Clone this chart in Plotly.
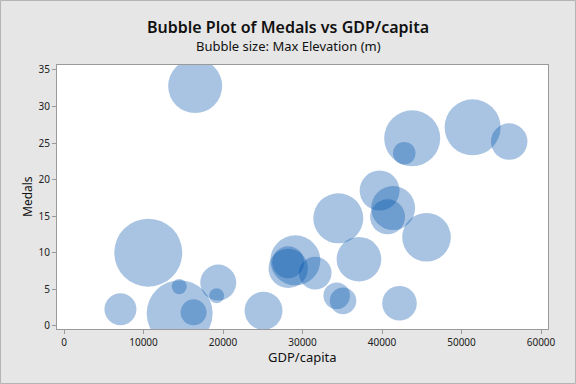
import plotly.graph_objects as go

# Data
gdp_per_capita = [16500, 10600, 7100, 14550, 14500, 16300, 19400, 19200, 25100,
                  29100, 28200, 28200, 31600,
                  43800, 42800, 51400, 56000, 39700, 41400, 40700, 34500,
                  45600, 37100, 34300, 35100, 42200]
medals = [32.8, 10.0, 2.25, 1.7, 5.35, 1.83, 5.9, 4.1, 2.05,
          8.95, 8.7, 7.85, 7.2,
          25.65, 23.6, 27.15, 25.2, 18.5, 16.1, 14.9, 14.7,
          12.1, 9.1, 4.1, 3.4, 3.07]
max_elevation = [3560, 5642, 1250, 5310, 275, 825, 1580, 275, 1760,
                 3050, 1250, 1890, 1300,
                 3830, 620, 3830, 1630, 1950, 2360, 1490, 3050,
                 2880, 2430, 860, 860, 1460]

x_ticks = [0, 10000, 20000, 30000, 40000, 50000, 60000]
y_ticks = [0, 5, 10, 15, 20, 25, 30, 35]

FONT = "Noto Sans"
max_diam = 68
sizeref = 2.0 * max(max_elevation) / (max_diam ** 2)

fig = go.Figure()
fig.add_trace(go.Scatter(
    x=gdp_per_capita, y=medals, mode="markers",
    marker=dict(size=max_elevation, sizemode="area", sizeref=sizeref,
                color="rgb(0,82,170)", opacity=0.34, line=dict(width=0)),
    hoverinfo="x+y", showlegend=False,
))

L, R, T, B = 57, 28, 65, 55
W, H = 576, 384
pw, ph = W - L - R, H - T - B

fig.update_layout(
    width=W, height=H,
    margin=dict(l=L, r=R, t=T, b=B, autoexpand=False),
    paper_bgcolor="#E6E6E6",
    plot_bgcolor="white",
    font=dict(family=FONT, color="#222222"),
    title=dict(
        text="Bubble Plot of Medals vs GDP/capita",
        x=0.5, xref="container", xanchor="center",
        y=1 - 27 / H, yref="container", yanchor="middle",
        font=dict(family=FONT, size=16, color="#111111", weight=600),
    ),
    xaxis=dict(
        range=[-880, 60880], tickvals=x_ticks, ticktext=[str(v) for v in x_ticks],
        showgrid=False, zeroline=False, showline=True, linecolor="#9A9A9A",
        linewidth=1, mirror=True, ticks="outside", ticklen=4, tickcolor="#9A9A9A",
        tickfont=dict(size=10, color="#222222"), automargin=False,
    ),
    yaxis=dict(
        range=[-0.45, 35.68], tickvals=y_ticks,
        showgrid=False, zeroline=False, showline=True, linecolor="#9A9A9A",
        linewidth=1, mirror=True, ticks="outside", ticklen=4, tickcolor="#9A9A9A",
        tickfont=dict(size=10, color="#222222"), automargin=False,
    ),
    annotations=[
        dict(text="Bubble size: Max Elevation (m)", xref="paper", yref="paper",
             x=(W / 2 - L) / pw, y=1 + (T - 46) / ph, xanchor="center", yanchor="middle",
             showarrow=False, font=dict(family=FONT, size=13, color="#111111")),
        dict(text="GDP/capita", xref="paper", yref="paper",
             x=(W / 2 + 14 - L) / pw, y=-(357 - (H - B)) / ph, xanchor="center", yanchor="middle",
             showarrow=False, font=dict(family=FONT, size=13, color="#111111")),
        dict(text="Medals", xref="paper", yref="paper", textangle=-90,
             x=-(L - 27) / pw, y=(H - B - 197) / ph, xanchor="center", yanchor="middle",
             showarrow=False, font=dict(family=FONT, size=12, color="#111111")),
    ],
)

# thin outer frame around the whole figure
fig.add_shape(type="rect", xref="paper", yref="paper",
              x0=-(L - 0.5) / pw, x1=1 + (R - 0.5) / pw,
              y0=-(B - 0.5) / ph, y1=1 + (T - 0.5) / ph,
              line=dict(color="#B4B4B4", width=1), fillcolor="rgba(0,0,0,0)",
              layer="below")

fig.write_html("out.html", config={"displayModeBar": False},
               post_script="document.body.style.margin='0';document.body.style.padding='0';")
